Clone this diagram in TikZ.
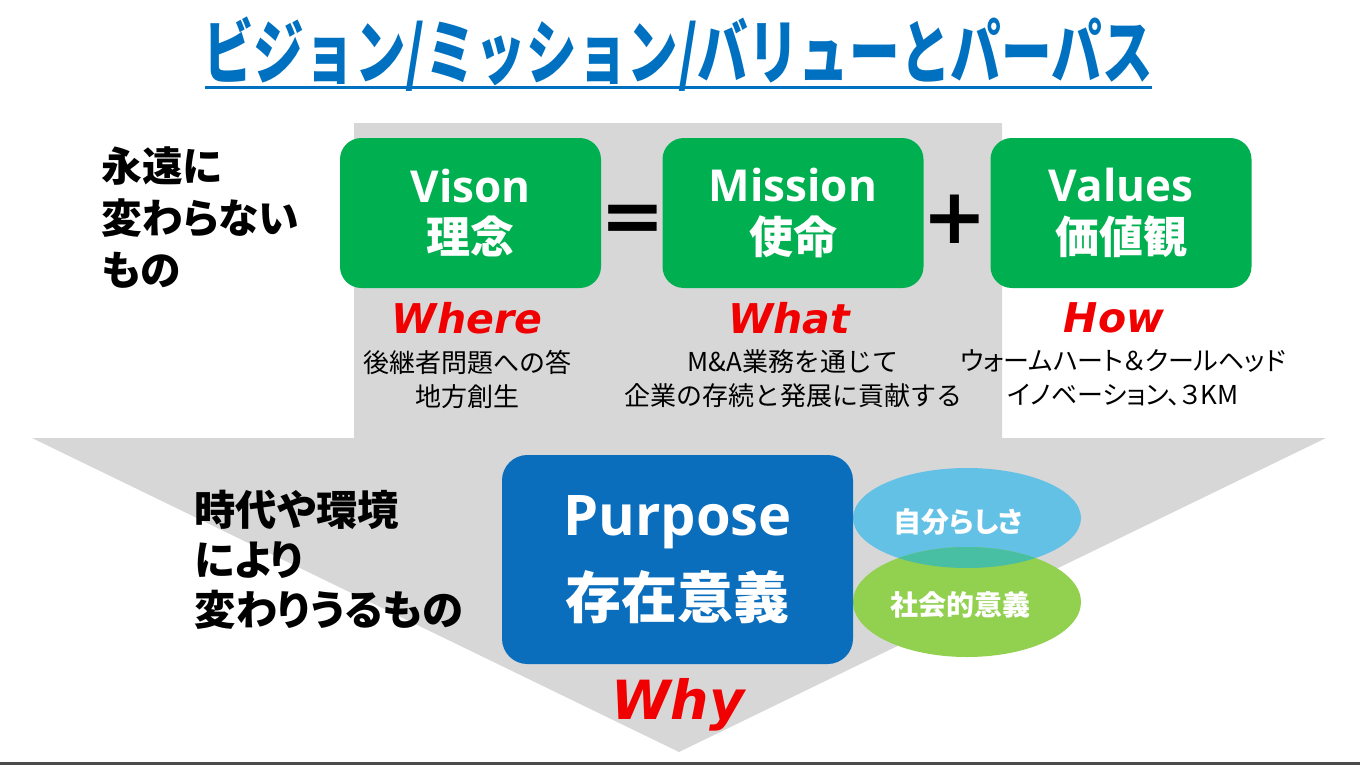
\documentclass[tikz,border=0pt]{standalone}
\usepackage{fontspec}
\newfontfamily\jpfont{Noto Sans CJK JP}[RawFeature=+palt]
\newfontfamily\jpplain{Noto Sans CJK JP}
\newfontfamily\latinfont{Open Sans}
\newfontfamily\wfont{DejaVu Sans}
\usetikzlibrary{positioning}
\definecolor{titleblue}{RGB}{0,112,192}
\definecolor{purposeblue}{RGB}{10,110,189}
\definecolor{boxgreen}{RGB}{0,176,80}
\definecolor{arrowgray}{RGB}{215,215,215}
\definecolor{selfblue}{RGB}{100,193,230}
\definecolor{socgreen}{RGB}{146,208,80}
\definecolor{overlapteal}{RGB}{72,190,163}
\definecolor{wordred}{RGB}{240,0,0}
\definecolor{darkline}{RGB}{74,74,74}
\tikzset{every picture/.style={line width=0.75pt}}
\tikzset{
  greenbox/.style={fill=boxgreen, rounded corners=16pt, minimum width=195.75pt, minimum height=112.5pt, align=center, text=white, inner sep=0pt},
  question/.style={text=wordred, font=\wfont\bfseries\itshape\fontsize{30.75pt}{34pt}\selectfont, inner sep=0.75pt},
  subtext/.style={align=center, font=\jpplain\fontsize{19.5pt}{25.5pt}\selectfont, inner sep=0.75pt},
  sidetext/.style={align=left, anchor=west, inner sep=0.75pt},
  ovaltext/.style={text=white, font=\jpfont\bfseries\fontsize{21pt}{24pt}\selectfont, inner sep=0.75pt},
  opsign/.style={font=\wfont\bfseries\fontsize{58pt}{60pt}\selectfont, inner sep=0pt}
}

\begin{document}
\begin{tikzpicture}[x=0.75pt,y=0.75pt,yscale=-1,xscale=1]
	\path[use as bounding box] (0,0) rectangle (1360,765);
	
	%Shape: gray arrow
	\fill[arrowgray] (354,123) -- (1002,123) -- (1002,438) -- (1326,438) -- (679,752) -- (32,438) -- (354,438) -- cycle;
	%Straight Lines: bottom rule
	\fill[darkline] (0,762) rectangle (1360,765);
	
	% Title
	\node[text=titleblue, inner sep=0pt] (title) at (678,54) {\scalebox{0.716}[1]{\jpplain\bfseries\fontsize{53pt}{56pt}\selectfont ビジョン/ミッション/バリューとパーパス}};
	\draw[titleblue, line width=2.25pt] (205,87.5) -- (1152,87.5);
	
	% Green boxes
	\node[greenbox] (vision) at (470.5,213) {{\latinfont\bfseries\fontsize{33pt}{39pt}\selectfont Vison}\\[9pt]{\jpfont\bfseries\fontsize{33pt}{39pt}\selectfont 理念}};
	\node[greenbox] (mission) at (793,213) {{\latinfont\bfseries\fontsize{33pt}{39pt}\selectfont Mission}\\[9pt]{\jpfont\bfseries\fontsize{33pt}{39pt}\selectfont 使命}};
	\node[greenbox] (values) at (1121,213) {{\latinfont\bfseries\fontsize{33pt}{39pt}\selectfont Values}\\[9pt]{\jpfont\bfseries\fontsize{33pt}{39pt}\selectfont 価値観}};
	\node[opsign] (eq) at (633,224) {=};
	\node[opsign] (plus) at (955,219) {+};
	
	% Where / What / How
	\node[question] (where) at (467,318) {Where};
	\node[question] (what) at (789,318) {What};
	\node[question] (how) at (1114,318) {How};
	\node[subtext] (wheretxt) at (467,379) {後継者問題への答\\地方創生};
	\node[subtext] (whattxt) at (793,379) {M\&A業務を通じて\\企業の存続と発展に貢献する};
	\node[subtext, font=\jpfont\fontsize{19.5pt}{25.5pt}\selectfont] (howtxt) at (1123,378) {ウォームハート＆クールヘッド\\イノベーション、３KM};
	
	% Side texts
	\node[sidetext, font=\jpfont\bfseries\fontsize{30.5pt}{39pt}\selectfont] (forever) at (100,218) {永遠に\\変わらない\\もの};
	\node[sidetext, font=\jpfont\bfseries\fontsize{31pt}{37.5pt}\selectfont] (change) at (193,560) {時代や環境\\により\\変わりうるもの};
	
	% Ellipses
	\fill[selfblue] (967,518) ellipse [x radius=114, y radius=50];
	\fill[socgreen] (967,602) ellipse [x radius=114, y radius=55];
	\begin{scope}
		\clip (967,518) ellipse [x radius=114, y radius=50];
		\fill[overlapteal] (967,602) ellipse [x radius=114, y radius=55];
	\end{scope}
	\node[ovaltext] (self) at (958,522) {自分らしさ};
	\node[ovaltext] (social) at (960,605) {社会的意義};
	
	% Purpose box
	\node[fill=purposeblue, rounded corners=19pt, minimum width=263.25pt, minimum height=156.75pt, align=center, text=white, inner sep=0pt] (purpose) at (677.5,559.5) {{\latinfont\bfseries\fontsize{42pt}{48pt}\selectfont Purpose}\\[15pt]{\jpfont\bfseries\fontsize{42pt}{48pt}\selectfont 存在意義}};
	
	% Why
	\node[question, font=\wfont\bfseries\itshape\fontsize{40.5pt}{44pt}\selectfont] (why) at (678,705) {Why};
	
\end{tikzpicture}
\end{document}
